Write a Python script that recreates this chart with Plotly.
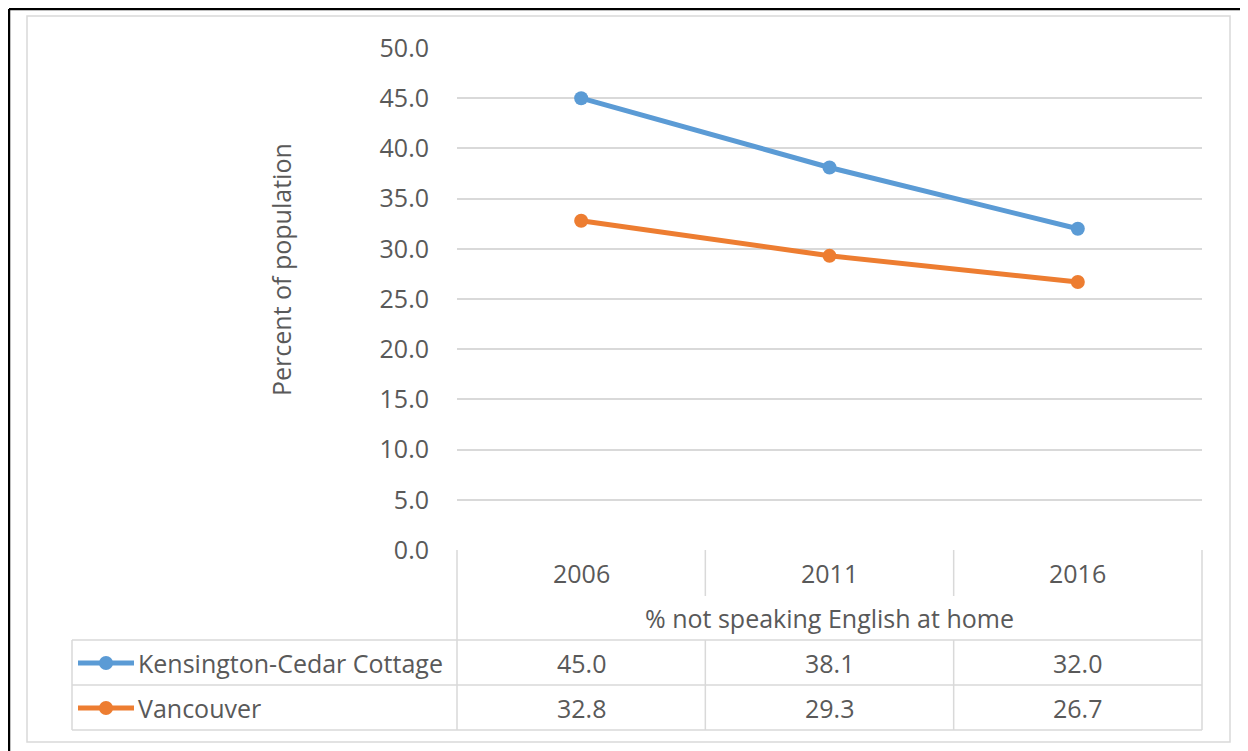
import plotly.graph_objects as go

# data
years = ["2006", "2011", "2016"]
series_names = ["Kensington-Cedar Cottage", "Vancouver"]
kensington = [45.0, 38.1, 32.0]
vancouver = [32.8, 29.3, 26.7]
category_label = "% not speaking English at home"
y_title = "Percent of population"

series_values = [kensington, vancouver]
colors = ["#5B9BD5", "#ED7D31"]
TEXT = "#595959"
GRID = "#D9D9D9"
FONT = "Open Sans"
FS = 25

OFF = 8  # page body margin in the browser
W, H = 1248 - OFF, 751 - OFF
L, R, T, B = 457, 1202, 48, 550  # plot area, page pixels


def px(x):
    return (x - L) / (R - L)


def py(y):
    return (B - y) / (B - T)


def cat_x(i):
    # centre of the i-th category column in paper units
    return (i + 0.5) / len(years)


fig = go.Figure()
for name, vals, c in zip(series_names, series_values, colors):
    fig.add_trace(go.Scatter(
        x=years, y=vals, name=name, mode="lines+markers",
        line=dict(color=c, width=5),
        marker=dict(color=c, size=14),
        cliponaxis=False,
    ))

shapes = []
line_style = dict(color=GRID, width=1.5)


def hline(x0, x1, y, style=line_style):
    shapes.append(dict(type="line", xref="paper", yref="paper", x0=px(x0), x1=px(x1),
                       y0=py(y), y1=py(y), line=style))


def vline(x, y0, y1, style=line_style):
    shapes.append(dict(type="line", xref="paper", yref="paper", x0=px(x), x1=px(x),
                       y0=py(y0), y1=py(y1), line=style))


# outer frame (black, top and left edge of the figure) and chart area border
frame = dict(color="black", width=2.5)
hline(OFF + 1, 1260, OFF + 1, frame)
vline(OFF + 1, OFF + 1, 770, frame)
shapes.append(dict(type="rect", xref="paper", yref="paper", x0=px(27), x1=px(1230),
                   y0=py(16), y1=py(742), line=dict(color=GRID, width=1.5)))

# data table grid
for yl in [640, 685, 730]:
    hline(72, R, yl)
vline(72, 640, 730)
vline(L, B, 730)
vline(R, B, 730)
for i in range(1, len(years)):
    xd = L + (R - L) * i / len(years)
    vline(xd, B, 596)
    vline(xd, 640, 730)

annotations = []


def label(x, y, text, xanchor="center", **kw):
    annotations.append(dict(x=x, xref="paper", y=y, yref="paper", text=text,
                            xanchor=xanchor, yanchor="middle", showarrow=False,
                            font=dict(family=FONT, size=FS, color=TEXT), **kw))


for i, yr in enumerate(years):
    label(cat_x(i), py(573), yr)
label(cat_x(1), py(618), category_label)

row_centers = [663, 708]
for name, vals, c, yc in zip(series_names, series_values, colors, row_centers):
    # legend key
    hline(78, 134, yc, dict(color=c, width=5))
    shapes.append(dict(type="circle", xref="paper", yref="paper",
                       xsizemode="pixel", ysizemode="pixel",
                       xanchor=px(106), yanchor=py(yc), x0=-7, x1=7, y0=-7, y1=7,
                       fillcolor=c, line=dict(color=c, width=0)))
    label(px(136), py(yc), name, xanchor="left")
    for i, v in enumerate(vals):
        label(cat_x(i), py(yc), f"{v:.1f}")

label(px(281), py(270), y_title, textangle=-90)

fig.update_layout(
    width=W, height=H,
    margin=dict(l=L - OFF, r=W - (R - OFF), t=T - OFF, b=H - (B - OFF)),
    paper_bgcolor="white", plot_bgcolor="white",
    showlegend=False,
    font=dict(family=FONT, size=FS, color=TEXT),
    shapes=shapes,
    annotations=annotations,
    xaxis=dict(type="category", range=[-0.5, 2.5], showticklabels=False,
               showgrid=False, zeroline=False, showline=False),
    yaxis=dict(range=[0, 50], dtick=5, tickformat=".1f", showgrid=True,
               gridcolor=GRID, gridwidth=1.5, zeroline=False, showline=False,
               ticklabelstandoff=27,
               tickfont=dict(family=FONT, size=FS, color=TEXT)),
)

fig.write_html("out.html")
